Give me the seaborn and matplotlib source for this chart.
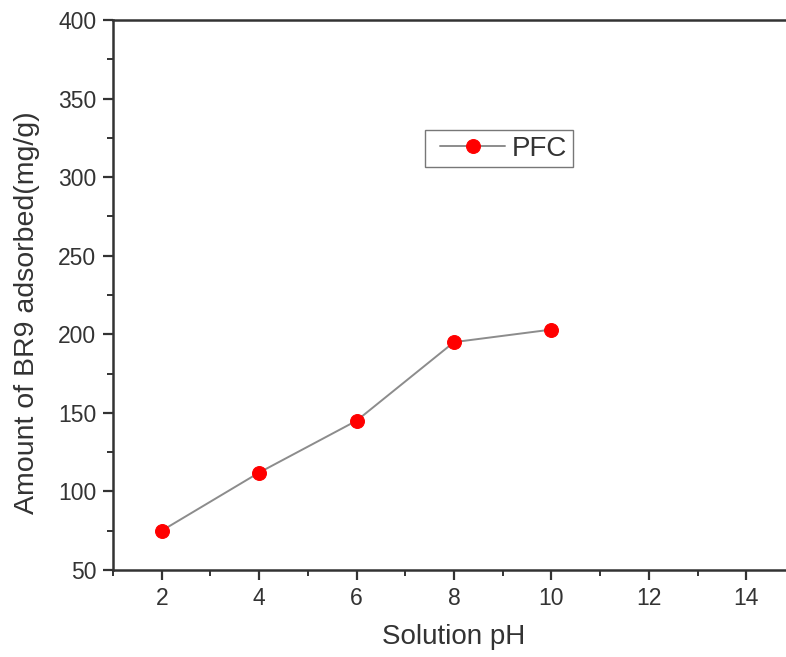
import matplotlib
matplotlib.use("Agg")
import matplotlib.pyplot as plt
import seaborn as sns
import pandas as pd
from matplotlib.ticker import MultipleLocator
from matplotlib.legend_handler import HandlerLine2D

ph = [2, 4, 6, 8, 10]
amount = [75, 112, 145, 195, 203]
series = ["PFC"] * len(ph)

df = pd.DataFrame({"Solution pH": ph, "Amount": amount, "Sample": series})

sns.set_style("ticks")
plt.rcParams["font.family"] = ["Liberation Sans", "DejaVu Sans"]

W, H = 786, 657
fig = plt.figure(figsize=(W / 100, H / 100), dpi=100)
AX_L, AX_R, AX_T, AX_B = 113, 795, 20, 570
ax = fig.add_axes([AX_L / W, 1 - AX_B / H, (AX_R - AX_L) / W, (AX_B - AX_T) / H])

sns.lineplot(data=df, x="Solution pH", y="Amount", hue="Sample",
             palette=["#8c8c8c"], marker="o", markersize=10,
             markerfacecolor="#ff0000", markeredgecolor="#ff0000",
             linewidth=1.4, ax=ax, legend=False)
line = ax.lines[0]
line.set_label("PFC")

ax.set_xlim(1, 15)
ax.set_ylim(50, 400)
ax.xaxis.set_minor_locator(MultipleLocator(1))
ax.yaxis.set_major_locator(MultipleLocator(50))
ax.yaxis.set_minor_locator(MultipleLocator(25))
ax.set_xticks([2, 4, 6, 8, 10, 12, 14])

for s in ["left", "bottom", "top"]:
    ax.spines[s].set_color("#333333")
    ax.spines[s].set_linewidth(1.8)
ax.spines["right"].set_visible(False)

ax.tick_params(which="major", direction="out", length=7, width=1.6,
               color="#333333", labelsize=16.5, labelcolor="#333333", pad=5)
ax.tick_params(which="minor", direction="out", length=4, width=1.4,
               color="#333333")
ax.tick_params(top=False, right=False, which="both")

ax.set_xlabel("Solution pH", fontsize=20, color="#333333", labelpad=10)
ax.set_ylabel("Amount of BR9 adsorbed(mg/g)", fontsize=20.5, color="#333333")
ax.yaxis.set_label_coords((40 - AX_L) / (AX_R - AX_L), (AX_B - 313) / (AX_B - AX_T))

leg = ax.legend(handles=[line], loc="upper left",
                bbox_to_anchor=((425 - AX_L) / (AX_R - AX_L), (AX_B - 130) / (AX_B - AX_T)),
                fontsize=20, frameon=True, fancybox=False, handlelength=2.68,
                borderpad=0.2, handletextpad=0.25, borderaxespad=0,
                handler_map={line: HandlerLine2D(xpad=0.34)})
leg.get_frame().set_edgecolor("#555555")
leg.get_frame().set_linewidth(1.0)
for t in leg.get_texts():
    t.set_color("#333333")

fig.savefig("out.png", dpi=100)
